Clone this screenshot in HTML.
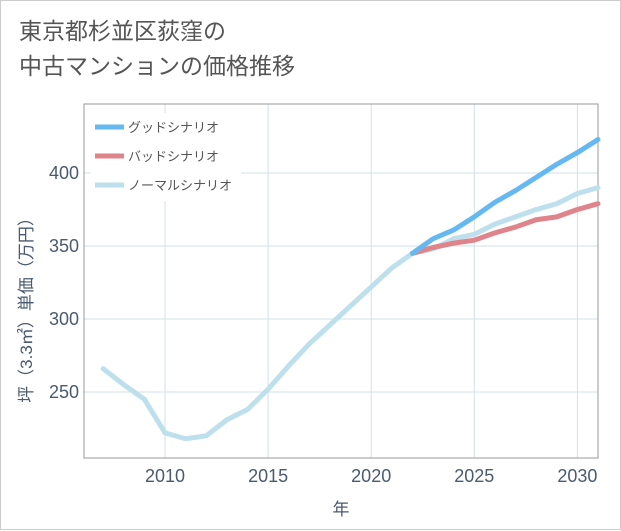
<!DOCTYPE html>
<html><head><meta charset="utf-8"><style>
body{margin:0;background:#fff;}
.wrap{position:relative;width:619px;height:528px;border:1px solid #ccc;background:#fff;font-family:"Liberation Sans","Noto Sans CJK JP",sans-serif;}
.title{position:absolute;left:18px;top:13px;font-size:23px;line-height:35px;color:#555;}
svg{position:absolute;left:0;top:0;}
</style></head><body>
<div class="wrap">
<div class="title">東京都杉並区荻窪の<br>中古マンションの価格推移</div>
<svg id="chart" width="621" height="530"></svg>
</div>
<script>
const years=[2007,2008,2009,2010,2011,2012,2013,2014,2015,2016,2017,2018,2019,2020,2021,2022,2023,2024,2025,2026,2027,2028,2029,2030,2031];
const normal=[266,255,245,222,218,220,231,238,252,268,283,296,309,322,335,345,348,355,358,365,370,375,379,386,390];
const goodYears=[2022,2023,2024,2025,2026,2027,2028,2029,2030,2031];
const good=[345,355,361,370,380,388,397,406,414,423];
const bad=[345,349,352,354,359,363,368,370,375,379];
const xTicks=[2010,2015,2020,2025,2030];
const yTicks=[250,300,350,400];
const L=83,R=597,T=103,B=457,x0=2006.07,x1=2031,y0=204.8,y1=447.3;
const X=v=>L+(v-x0)/(x1-x0)*(R-L);
const Y=v=>B-(v-y0)/(y1-y0)*(B-T);
const svg=document.getElementById('chart');
const NS='http://www.w3.org/2000/svg';
function mk(t,a,parent){const e=document.createElementNS(NS,t);for(const k in a)e.setAttribute(k,a[k]);(parent||svg).appendChild(e);return e;}
xTicks.forEach(t=>{
 const g=mk('line',{x1:X(t),x2:X(t),y1:T,y2:B,stroke:'#d3e0ea','stroke-width':1});
 
 const l=mk('text',{x:X(t),y:B+24,'text-anchor':'middle','font-size':18,fill:'#4a5a70'});l.textContent=t;
 
});
yTicks.forEach(t=>{
 const g=mk('line',{x1:L,x2:R,y1:Y(t),y2:Y(t),stroke:'#d3e0ea','stroke-width':1});
 
 const l=mk('text',{x:L-5,y:Y(t)+6,'text-anchor':'end','font-size':18,fill:'#4a5a70'});l.textContent=t;
 
});
const fr=mk('rect',{x:L,y:T,width:R-L,height:B-T,fill:'none',stroke:'#999','stroke-width':1});

function line(xs,vs,color,name){
 const p=mk('polyline',{points:xs.map((x,i)=>X(x)+','+Y(vs[i])).join(' '),fill:'none',stroke:color,'stroke-width':5,'stroke-linejoin':'round','stroke-linecap':'round'});
 
}
line(years,normal,'#bde0ec','normal-scenario-line');
line(goodYears,bad,'#e0848c','bad-scenario-line');
line(goodYears,good,'#66b8f0','good-scenario-line');
const lg=mk('rect',{x:90,y:112,width:150,height:88,fill:'#fff'});

[['グッドシナリオ','#66b8f0'],['バッドシナリオ','#e0848c'],['ノーマルシナリオ','#bde0ec']].forEach((d,i)=>{
 const y=126+i*29;
 const s=mk('line',{x1:94,x2:123,y1:y,y2:y,stroke:d[1],'stroke-width':5});
 
 const t=mk('text',{x:127,y:y+5,'font-size':13,fill:'#555'});t.textContent=d[0];
 
});
const xt=mk('text',{x:(L+R)/2,y:514,'text-anchor':'middle','font-size':17,fill:'#4a5a70'});xt.textContent='年';

const yt=mk('text',{x:0,y:0,'text-anchor':'middle','font-size':17,fill:'#4a5a70',transform:'translate(31,'+((T+B)/2+25)+') rotate(-90)'});yt.textContent='坪（3.3㎡）単価（万円）';

</script>
</body></html>
